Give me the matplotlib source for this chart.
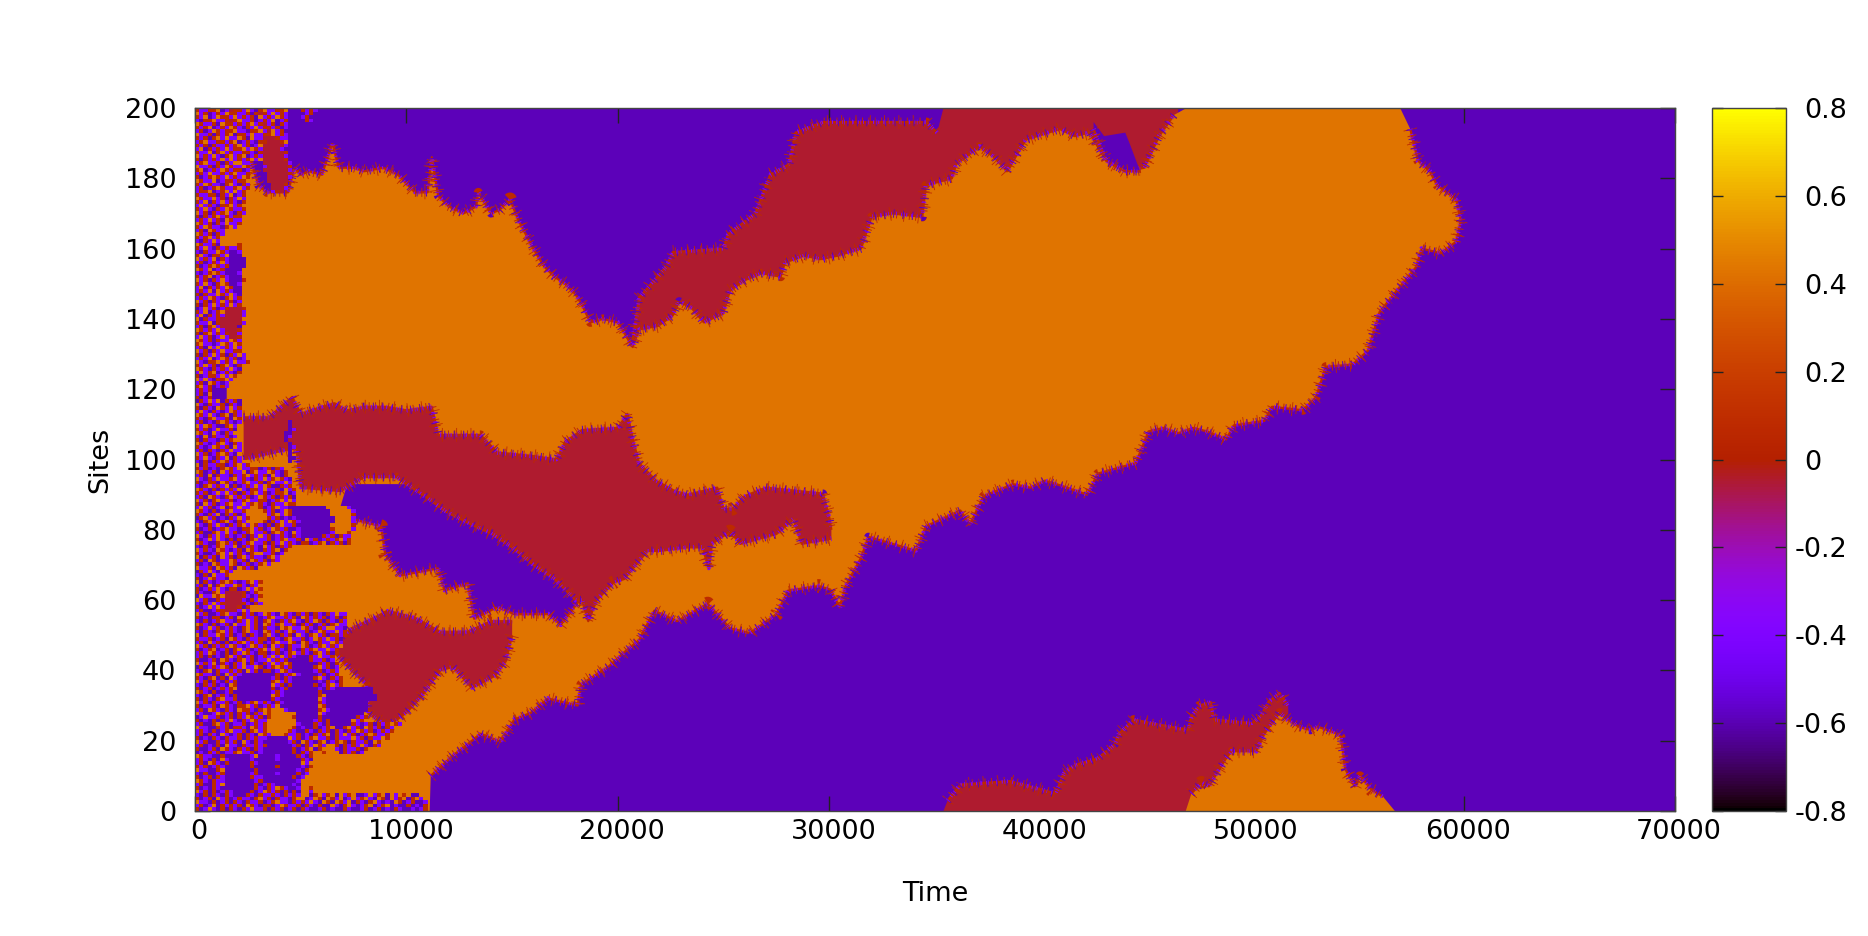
import matplotlib
matplotlib.use("Agg")
import matplotlib.pyplot as plt
import matplotlib.transforms as mtrans
import numpy as np
from matplotlib.cm import ScalarMappable
from matplotlib.colors import Normalize

plt.rcParams["lines.scale_dashes"] = False

# domain values
VAL_PURPLE = -0.59
VAL_VIOLET = -0.40
VAL_ORANGE = 0.43
VAL_RED = -0.045
VAL_BROWN = 0.08

# main orange domain
orange_up_t = [1500, 2300, 2600, 3000, 3400, 4400, 4700, 5000, 5400, 6000, 6500, 6800, 7500, 8000, 8900, 9600, 10400,
               11000, 11200, 11500, 12000, 12700, 13300, 13400, 14000, 14400, 14900, 15300, 16000, 16500, 17000, 17500,
               18000, 18300, 18700, 19300, 20000, 20400, 20700, 21000, 21900, 22600, 22900, 23500, 24070, 24980, 25300,
               26000, 26800, 27700, 27900, 28800, 29600, 30400, 31500, 32000, 33000, 34400, 34570, 35800, 36000, 37100,
               37800, 38400, 39300, 40900, 41600, 42300, 43100, 44000, 44900, 45600, 46300, 46900, 57000, 57480, 57840,
               58400, 58750, 59650, 59870]
orange_up_s = [172, 178, 186, 178, 176, 176, 183, 181, 182, 181, 190, 183, 183, 182, 183, 181, 176,
               176, 186, 175, 172, 170, 172, 176, 170, 171, 174, 168, 160, 155, 152, 150,
               147, 144, 139, 140, 139, 135, 132, 137, 138, 141, 145, 143, 139, 141.5, 148,
               151, 153, 152, 156, 158, 157, 158, 160, 169, 170, 169, 178, 180, 184, 189,
               186, 182, 191, 194, 192, 193, 185, 182, 183, 192, 198, 200, 200, 194, 185,
               182, 178, 174, 168]
orange_lo_t = [1500, 11100, 11150, 12240, 12700, 13500, 14450, 15100, 15900, 16700, 18100, 18250, 18900, 19550, 20270,
               21000, 21720, 22800, 24250, 25300, 26250, 27500, 28050, 29500, 30050, 30500, 30770, 31500, 31850, 33000,
               34100, 34570, 36200, 36650, 37300, 38700, 39500, 40200, 41000, 42200, 42700, 44500, 45100, 45800, 46500,
               47200, 47860, 48770, 49130, 50580, 50940, 52400, 53030, 53480, 54750, 55480, 56030, 56930, 57750, 58020,
               58930, 59650, 59870]
orange_lo_s = [0, 0, 10, 16, 18, 22, 19.7, 26, 28, 32, 30, 36, 38.5, 41, 45,
               48.6, 57, 54, 59, 52, 50.6, 56, 62.7, 64, 63, 58, 64, 72, 78, 76,
               74, 81, 85.5, 81.5, 89.6, 93, 92, 94, 92.5, 90, 96, 99, 108, 109, 107.5,
               109, 108, 105.7, 109.7, 111, 115, 114, 117.8, 126.4, 127, 131, 142, 148.7, 154.7, 160,
               158.7, 162, 168]

# red strip on top of the orange domain
red_top_t = [20700, 21000, 22300, 22600, 25000, 25200, 26500, 27200, 28100, 28400, 29700, 31900, 34600, 35100, 35400, 46500]
red_top_s = [134, 146, 155, 159, 160, 164, 170, 181, 184, 193, 196, 196, 196, 193, 200, 200]

# purple pocket inside the top red strip
pocket_up_t = [42500, 43000, 44000, 44200, 44700]
pocket_up_s = [196, 192, 193, 190, 182]
pocket_lo_t = [42500, 43100, 44000, 44700]
pocket_lo_s = [194, 185, 182, 182]

# middle red band
red_mid_up_t = [2300, 3500, 4600, 5000, 6000, 6600, 7200, 8000, 9000, 10000, 11200, 11500, 13500, 14300, 16000, 17100,
                17500, 18300, 20000, 20450, 20700, 21000, 21800, 22700, 23300, 24700, 25000, 25400, 26000, 27000, 29700,
                30000, 30100]
red_mid_up_s = [112, 112, 117.8, 113, 115, 116, 114, 115, 115, 114, 115, 107, 107, 102, 101, 100,
                105, 108.4, 109, 113, 106, 99, 94, 91, 90, 92, 86, 86, 89.6, 92, 90.3,
                83.5, 80]
red_mid_lo_t = [2300, 4500, 4800, 5000, 6900, 8000, 9500, 11000, 11900, 13300, 14000, 15000, 16000, 17000, 18000, 18300,
                18600, 19000, 19800, 20300, 21400, 22000, 23300, 24000, 24300, 24450, 25300, 25800, 27500, 28300, 28700,
                30100]
red_mid_lo_s = [100, 103, 103, 92, 91, 95, 95, 89, 85, 80.8, 79, 75, 70, 66, 60, 60,
                54, 60, 65, 66, 74, 74, 75, 75, 69, 76, 79.5, 76, 78.8, 83, 76,
                77.5]

# purple band under the middle red band
purple_mid_up_t = [6800, 7200, 13000, 14000, 18200]
purple_mid_up_s = [85, 93, 93, 82, 65]
purple_mid_lo_t = [6800, 8800, 9000, 9700, 11500, 11800, 12900, 13200, 14300, 15100, 16700, 17300, 18200]
purple_mid_lo_s = [84, 81, 73, 67, 69, 62.7, 64.8, 54.7, 58, 56, 56, 53, 60]

# lower red lobes
red_low_up_t = [6600, 7400, 8500, 9100, 10400, 11600, 12900, 14000, 15000]
red_low_up_s = [48, 52, 55, 57, 55, 51, 51, 54, 54]
red_low_lo_t = [6600, 7400, 8100, 8200, 9100, 10000, 10700, 11600, 12200, 13100, 14200, 14700, 15000]
red_low_lo_s = [45, 40, 36, 27.7, 24, 28, 32.5, 40, 41, 35, 38.5, 42.6, 50]

# bottom red and orange domains
red_bot_t = [35400, 35600, 36200, 38550, 40700, 41100, 41600, 42700, 43500, 43700, 44400, 46950, 47130, 47500, 48040,
             48200, 50000, 50400, 50760, 51300, 51700, 51800]
red_bot_s = [0, 3, 7.5, 8.5, 5, 11, 13, 15, 19, 22, 26, 23, 27, 30, 31,
             26, 25, 27, 31, 33.6, 30, 0]
orange_bot_t = [46860, 47130, 47600, 47950, 48770, 49040, 50200, 50580, 51300, 51670, 52200, 52760, 53100, 54030, 54200,
                54400, 54850, 55100, 55660, 56200, 56750]
orange_bot_s = [0, 5, 8, 7, 15, 17, 17, 22, 28, 26, 24, 23, 24, 22, 21,
                12, 7, 10, 6, 4, 0]

# disordered start of the run, one row per site from the top, one column per 200 time units
noise_codes = {"P": -0.59, "V": -0.40, "O": 0.43, "B": 0.08, "R": -0.045}
noise_rows = [
    "BVVBBOPVRBBVOVPBOVVBBO...BVBV",
    "OVBPVBVOBBVVBPBRBVOVBV....VB",
    "BVOPVOBBVOVBVBPOVBVOBV...VBP",
    "VPBBOVVBRBOVVBPVBVOPVB....BV",
    "OBVVBPOBBVBVBOVBRVBPBV",
    "BVBOPVBVOBVPBVOVBBVBPV",
    "VBPVOBVBBOVVPBBOVROVBP",
    "OVVBPBVBOPBBVOVVBBOVBV",
    "BVBPBOVOVVOBPOVVRRRBVV",
    "VBOVVBBVBOPVBVPBBRRRBO",
    "BVBPBVVBVBOVBPVORRRRRV",
    "VOPBVBVOVBBOVOBVRRRRVP",
    "BVVOPBOVBVVBBVPBRRRRRB",
    "OVBVOVPBOVBOPVBVRRRRRV",
    "BPBVBVOVOVBVBOVORRRRRB",
    "VBOVVBPBVOOVV...RRRRRRV",
    "OVVBPBVOBVVOB...VRRRRRB",
    "BOPVBVOBVBBPV...RRRRRRV",
    "VBVOVVBVBOVVB....RRRRRB",
    "BPVBOBVOVBVOB....RRRRRV",
    "OBVVOPVBBVBBO....RRRRR",
    "BVOBVVPBOVPBV.....RRRB",
    "VBPVBOBVVBOVB.....RRRV",
    "VBBOPVBOVOVBO.....VBR",
    "BVVBBPBVOPVB",
    "OBVVOVBPBVOV",
    "BVOPBVOVBVPB",
    "VOVBVPBBOVBO",
    "BVOVPBVOBVVB",
    "OVBPBVBOVPBV",
    "BPBVBOVBVBB",
    "VBVOVBPOBVV",
    "OBVBPBVOVVB",
    "BVOBVVPBOVO",
    "VBPOBVVOOOO",
    "OBVBPBVOOOO",
    "BVBOVBOOOOO",
    "VPBVOVOOOOO",
    "OBVVBPOOOOB",
    "BVOVPBVBVVB",
    "VPBVVOBVPPV",
    "BOVPBBVOPPP",
    "OVBVOPBVPPPP",
    "VBPVBVOVPPPP",
    "BPVBOBVBPPPP",
    "OBVOPVBPPPP",
    "VPVBOBVPPPV",
    "BVBOPVBVPPP",
    "OVBPBVOVPPPB",
    "BVOVPBOBPPV",
    "VOPBVBVOBPP",
    "VBVOPOVBVPP",
    "BPBVVOBVOVP",
    "VBVOBVPBOVB",
    "OVBPBVOVBPV",
    "BPBVOVBVOVB",
    "PVOVBPVBRRRB",
    "BVOPVBORRRRV",
    "VOPBVBVRRRRV",
    "OPBVVBRRRRRO",
    "BVVOPBRRRRRV",
    "VBPBOVRRRRP",
    "OBVBVOVRRRB",
    "BPBOVBVBRRV",
    "VOVBPVOVRRB",
    "OBVBPBVVOBV",
    "BOVVPVOBVOB",
    "VBPOVOVBVOV",
    "OVBPBVOVVBB",
    "BPBVOVBPBVOV",
    "VBVOPVOBVBPVO",
    "OVPBBOVBVOVVB",
    "BVOVBPBOVPB",
    "OBVPBVBVOVP",
    "VOVBOPVBVPB",
    "BPVBBVOVOB",
    "OVOVPBBOV",
    "VBPOBVPV",
    "BOVBPVBV",
    "VBVB",
    "VBPO",
    "BPVB",
    "PBVOVOPBVBP",
    "OVPBVVBPBVP",
    "BPBVPOBVOVB",
    "VOVPBVPVOBV",
    "OBVOVPBOPBV",
    "BVPBOVVBPOB",
    "VBPVPBOBVPV...........P",
    "OVOBVPPBOV............P",
    "BVBPVOVVBP............PV",
    "OBVPOVPBVO...........PP",
    "VPOPBVVBPV...........PV",
    "BPBVVPBVBO...........P",
    "OBVPVBOVPBV...........P",
    "BVPVOBVBPOV...........PV",
    "VBPBVPBVOVV...........P",
    "OVBPVBOBVPO...........P",
    "BVOVPBVOPBV...........PP",
    "VPBPBVOBVBVO..........P",
    "OPBVVBBPVBOVB",
    "BVBPVPBOBVOVVBBPVBPBVO",
    "OBPVBPOVBVVOPBOVVOBVPB",
    "VBPOPBVVPBVBOVBVBPOVPB",
    "OVPBVOVVBOVBVPBVOVBOBVP",
    "BPVBBPOBVPVBOVVBPBOVVOV",
    "VPBOVBVOPBPVBVOVOBPPBVB",
    "OBVPBPBVBVOVPBBVOVVBPOVB",
    "BVBPVOVOVBPBVBOVBPVBBOPV",
    "VBPOBVPBOVBVBPVOBVBPBVBP",
    "OVBPBOVVBPVBOVVBBPVBOVOV",
    "BPOVBPVBOVVOVBOBVPBVVOBB",
    "VOVBPVOPBVOVVOOBPVBOVVPPPPPPPPPOOOOOV",
    "OBVPBPVBOVVBOOOOBVBPVOBPPPPPPPPPOOOOOV",
    "BVPBVOPBVBPVOOOOOVBOVOBPPPPPPPPPOOOOOB",
    "PBOVBPVPBVOVBOOOOBVBPVPVPPPPPPPPPOOOOV",
    "VPBOVPBOVPBVOOOOBPBVOVOBVPPPPPPPPOOOOV",
    "OVPBVOVPBVBOVOBVPBPBOVVBPPPPPPPPOOOOOB",
    "BPVBPVBOVVPBBOVBPVOBVBPPVPPPPPPPBOOOOV",
    "VBPPBOVOVBPVBOVVBPBOBVPOVPPPPPPPVOOOB",
    "OVPBVOVBVPVBPBVOVBPVBVPBVPPPPPBVBPBVV",
    "BPVOVOVPBPBVPBOVVBPVBOVVBPOVBPVBVBOVB",
    "OBVPPBOBVBPVBOVVBPBVOVBVPBBPVBOPBVBPB",
    "VPBPVBOVVOPBVBVPOVBPBVB",
    "OVBVPOBVPVBPOBVPBVBOPB",
    "BVPPVBOVOVBVPBOOVVBPV",
    "OPBVBPOVBPBOVBVVPBOV",
    "VBPOBPVVOBVBPOBVBPBV",
    "BPVPOBVVOBPVBPVBOV",
    "OVVBPOBVBPOBVBP",
    "PBVOVPOBV",
    "VPBPOVVB",
    "BPVOBVVP",
    "OPBVPVBOBVPVBOVB",
    "VBPOPBOVVOBVPBVO",
    "BPVBVOVPBBPVOVOB",
    "BVPPBOVRRRRBPVBO",
    "POVVOBORRRRBVPVB",
    "OVBPPBVRRRRVPBVO",
    "VPBVOVBRRRRBVPBV",
    "BPVOVOVRRRBPB",
    "VBPPVBBRRRVOV",
    "OVBPPVBOVVPBVBPVOBVPOBVPBVBPBVPBVOVV",
    "BPVPBBPVBPOBVVBPVBOVVBVBPOBVBVBPVBPB",
    "VPBPVBOVVPBVOVBPBOVPBVBOVPBVOBPBVPBV",
    "OBVPBPVBPOVVOVBPOBVBOVVBPBVBPVBPBOVV",
    "BPVOVBPVBVPBOVBPBVVPOBOVVOBVPBVOOVVP",
    "VPBVPBOVBVPBOVVPOBVBPVOBVVBPVOBVVOVB",
    "OPBVVOBVBPVBPBVPBOVPBVBPOVPBOVBPBBVB",
    "BVVBPVBPOBVPBVVBBPBVPBOVVBPVOBVOVBP",
    "VBPOVBPBPVBOVBVBPVBOVVOBPOBVPBVVOBV",
    "OVBPBVBVOBVPVOBVBPOVBPBVVOBPVBOVBVO",
    "BPVBOPVBPBOVBPVBOVOBVPBVPBVBOVVOVB",
    "VBVOBVPBPBVOBVPBBPVBPVBOVBVPBOVBPB",
    "VBPBPVPBOVBPVBPVBVOVOVBVPPPBVOVVB",
    "BPPVBPOBVPBOVBPVVOVBVBPPPPPBVVBPV",
    "OVBVOPBVPBVOPBVPBVOVBOBPPPPPPBVBPB",
    "PBPVBVOBPBVOVVOBPVBOBVBPPPPPBOVBPV",
    "VPBOPBVVBVBPOVBPBBPVOBVPPPPPVBPVBV",
    "OBVVPBPOVBVPPPPPPPPBPVBOVPPPPVBPVBO",
    "BVPBOPBPOVPPPPPPPPVBPBVPPPPPBOVPBVB",
    "OVBPBVPBVBPPPPPPPPBOVBVPPPPPPVPBVPB",
    "VPBVBPVPOBPPPPPPPPOVBPBPPPPPBPVBOVB",
    "BPVBPVBVBOPPPPPPPPBPVBPPPPPPPVPBVPPPPPPPPP",
    "OBVPBPPVBPPPPPPPPPVBVPPPPPPPPBPPPPPPPPPPPP",
    "VPBOPVBVPBPPPPPPPPOBVPPPPPPPPBOPPPPPPPPPPPP",
    "BPBVPBOVVBPPPPPPPPBVPPPPPPPPPOVPPPPPPPPPPPP",
    "OVBPBVVBPVBPVBOVBVPBVPPPPPPPPBVPPPPPPPPPP",
    "BPVVBPOBVPBBOVBPVBVOPPPPPPPPPOBPPPPPPPPPP",
    "VBPOBVPBVPOBBVPBOBOOOVPPPPPPPBOVPPPPPPPPP",
    "OVPPVOBVBPBVBPBVOBOOOOOOPPPPPOVPPPPPPPPP",
    "PVOVVBPVBPBVOBVBPBOOOOOBPPPPPBPPPPPPPPBVB",
    "BPVPBPBVOVPBVOBVVOOOOOOOPPPPVBPBPPPPPOVB",
    "VBPPBOVBPVVBPVBVBOOOOOOOVPPPBVPBPPPPPBVPVBPBVBOBV",
    "OVVPPBVBPBBVPOBVBOOOOOOBPVPPBPVBOPPBOVBPOBVBPBVO",
    "VBVPBPVBOVVBPBOVBOOOOOBVPPBVPBVBPBVPBVOBVBPVBVB",
    "VBPBVPOVPVBPBVPOBVOOOBVVBPVPBVBOPBVOVBPVBOBVVB",
    "BPVPBVPBVVBPBVBVVPPPPPOVBPVBOVVBPBVVVOVBPBVVOB",
    "OVBPPBVBVBPOVPBVPPPPPPVBPOBVPB.PVB.BPBVVBPOB",
    "VBPVPBPOVVPBVVBVBPPPPPPVBPBV.BV..BPBVBVOVPBVO",
    "BPPVBPOBVPBVBPBVPPPPPPPBPVB.PB...VPBVVBPB",
    "PVPBVBPVVBOVVBPVPPPPPPPBPBVB..B...PBVBPV",
    "OBVVPPBPPPPPPVOPPPPVPPPPBVPB",
    "VBVPBPOVPPPPPVPPPPPVPPPPPBVP",
    "VBPOBVPBPPPPPBVPPPPPPPPPPOV",
    "BVBPVBVPPPPPPBPPPPPBPPPPPVPB",
    "OVVPPBOPPPPPPPBPPPPPPPPPVPB",
    "VPBPPVBPPPPPPVBPPPPVPPPPBPV",
    "BPVBPBVPPPPPPBVVPPPPPPPBPV",
    "OBVPBVVPPPPPPPVBPPPPPPPPVO",
    "VBPPBVOPPPPPPPBPVBVPPPPVP",
    "BPVPBVPPPPPPPPBVPBVOBVPPV..B",
    "OVBPBPVBVPPPPBPVOBVBPBPBP..V",
    "VPBPBVPBVPPPBVPBVVBVPBVBV..PB.VB.P.VB.PPV.VB.P.V.B.PP",
    "BPVBPOVBPVBVVPBOVBPBVVPBO.PV.BP.BV.PV.VB.VP.BP.VB.PB.V",
    "OVVPBPVBPBVPBVVBPVBOVVPBVBV.VP.BP.BV.PBVPB.VPVP.BPVBPPV",
    "VBPVOPBVBVBPOBVPBBPVOBVVBPBVPBPP.VPB.VPVB.PVB.PVPPBPVPB",
    "BPVOVPBPBVPBVOVVBPBVBPVBPBVPPVBPVPPBVPPVBPVBPVPBVPPVPVB",
]

x_ticks = [0, 10000, 20000, 30000, 40000, 50000, 60000, 70000]
y_ticks = [0, 20, 40, 60, 80, 100, 120, 140, 160, 180, 200]
cb_ticks = [-0.8, -0.6, -0.4, -0.2, 0, 0.2, 0.4, 0.6, 0.8]
cb_labels = ["-0.8", "-0.6", "-0.4", "-0.2", "0", "0.2", "0.4", "0.6", "0.8"]

W, H = 1868, 936
NOISE_DT = 200
NOISE_COLS = 56

norm = Normalize(-0.8, 0.8)
cmap = plt.get_cmap("gnuplot")


def col(v):
    return cmap(norm(v))


fig = plt.figure(figsize=(W / 100, H / 100), dpi=100, facecolor="white")
ax = fig.add_axes([195 / W, 1 - 811 / H, (1675 - 195) / W, (811 - 108) / H])
cax = fig.add_axes([1712 / W, 1 - 811 / H, (1786 - 1712) / W, (811 - 108) / H])

ax.set_facecolor(col(VAL_PURPLE))


def fringe(t, s):
    # ragged rim: dashes of a wide line read as short teeth across the boundary
    s = np.ma.masked_where((np.array(s) >= 200) | (np.array(s) <= 0), s)
    kw = dict(zorder=2, dash_capstyle="butt", solid_capstyle="butt")
    ax.plot(t, s, color=col(VAL_BROWN), lw=1.6, **kw)
    ax.plot(t, s, color=col(VAL_VIOLET), lw=2.6, dashes=(0.8, 2.9), **kw)
    ax.plot(t, s, color=col(VAL_BROWN), lw=6.5, dashes=(0.7, 3.9), **kw)
    ax.plot(t, s, color=col(VAL_BROWN), lw=10, dashes=(0.6, 9.7), **kw)
    ax.plot(t, s, color=col(VAL_PURPLE), lw=6, dashes=(0.7, 6.1), **kw)
    ax.plot(t, s, color=col(VAL_VIOLET), lw=3.5, dashes=(0.5, 5.3), **kw)


def domain(up_t, up_s, lo_t, lo_s, val, rim_up=True, rim_lo=True):
    xs = list(up_t) + list(lo_t)[::-1]
    ys = list(up_s) + list(lo_s)[::-1]
    ax.fill(xs, ys, color=col(val), lw=0, zorder=2)
    if rim_up:
        fringe(up_t, up_s)
    if rim_lo:
        fringe(lo_t, lo_s)


# the red strip sits behind the orange domain, its lower side is hidden
domain(red_top_t, red_top_s, [red_top_t[0], red_top_t[-1]], [130, 130], VAL_RED, rim_lo=False)
domain(orange_up_t, orange_up_s, orange_lo_t, orange_lo_s, VAL_ORANGE)
domain(pocket_up_t, pocket_up_s, pocket_lo_t, pocket_lo_s, VAL_PURPLE, rim_up=False)
domain(purple_mid_up_t, purple_mid_up_s, purple_mid_lo_t, purple_mid_lo_s, VAL_PURPLE, rim_up=False)
domain(red_mid_up_t, red_mid_up_s, red_mid_lo_t, red_mid_lo_s, VAL_RED)
domain(red_low_up_t, red_low_up_s, red_low_lo_t, red_low_lo_s, VAL_RED)
domain(red_bot_t, red_bot_s, [red_bot_t[0], red_bot_t[-1]], [0, 0], VAL_RED, rim_lo=False)
domain(orange_bot_t, orange_bot_s, [orange_bot_t[0], orange_bot_t[-1]], [0, 0], VAL_ORANGE, rim_lo=False)

grid = np.full((len(noise_rows), NOISE_COLS), np.nan)
for i, row in enumerate(noise_rows):
    for j, ch in enumerate(row[:NOISE_COLS]):
        if ch in noise_codes:
            grid[i, j] = noise_codes[ch]
t_edges = np.arange(NOISE_COLS + 1) * NOISE_DT
s_edges = np.linspace(200, 0, len(noise_rows) + 1)
ax.pcolormesh(t_edges, s_edges, np.ma.masked_invalid(grid), cmap=cmap, norm=norm, zorder=3, lw=0)

ax.set_xlim(0, 70000)
ax.set_ylim(0, 200)
ax.set_xticks(x_ticks)
ax.set_yticks(y_ticks)
ax.tick_params(axis="both", direction="in", length=11, width=1, top=True, right=True, labelsize=19.5, color="#222222")
ax.tick_params(axis="x", pad=6)
ax.tick_params(axis="y", pad=13.5)
ax.set_xlabel("Time", fontsize=19.5, labelpad=26)
ax.set_ylabel("Sites", fontsize=19.5, labelpad=8)
for sp in ax.spines.values():
    sp.set_linewidth(1)
    sp.set_color("#444444")
    sp.set_zorder(5)
# gnuplot centres its x labels a little right of the ticks
xshift = mtrans.ScaledTranslation(4 / 100, 0, fig.dpi_scale_trans)
for lab in ax.get_xticklabels():
    lab.set_transform(lab.get_transform() + xshift)

sm = ScalarMappable(norm=norm, cmap=cmap)
cb = fig.colorbar(sm, cax=cax, ticks=cb_ticks)
cb.ax.set_yticklabels(cb_labels)
cax.tick_params(axis="y", direction="in", length=8, width=1, left=True, right=True, labelsize=19.5, pad=6, color="#222222")
cb.outline.set_linewidth(1)
cb.outline.set_edgecolor("#444444")
# labels without a sign start where the digits of the signed ones start
shift = mtrans.ScaledTranslation(10 / 100, 0, fig.dpi_scale_trans)
for lab in cax.get_yticklabels():
    if not lab.get_text().startswith("-"):
        lab.set_transform(lab.get_transform() + shift)

fig.savefig("out.png", dpi=100, facecolor="white")
